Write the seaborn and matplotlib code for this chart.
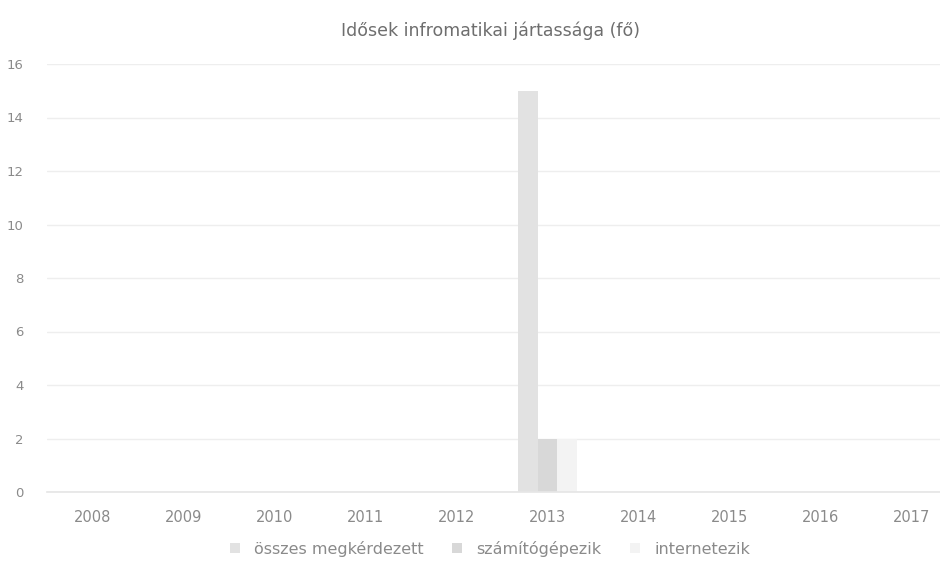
import matplotlib
matplotlib.use("Agg")
import matplotlib.pyplot as plt
import seaborn as sns
import pandas as pd
from matplotlib.patches import Patch

years = ["2008", "2009", "2010", "2011", "2012", "2013", "2014", "2015", "2016", "2017"]
osszes = [0, 0, 0, 0, 0, 15, 0, 0, 0, 0]
szamitogepezik = [0, 0, 0, 0, 0, 2, 0, 0, 0, 0]
internetezik = [0, 0, 0, 0, 0, 2, 0, 0, 0, 0]
series_names = ["összes megkérdezett", "számítógépezik", "internetezik"]
yticks = [0, 2, 4, 6, 8, 10, 12, 14, 16]

colors = ["#e2e2e2", "#d8d8d8", "#f3f3f3"]

rows = []
for name, vals in zip(series_names, [osszes, szamitogepezik, internetezik]):
    for y, v in zip(years, vals):
        rows.append({"év": y, "sorozat": name, "fő": v})
df = pd.DataFrame(rows)

sns.set_theme(style="white")
plt.rcParams["font.family"] = ["DejaVu Sans"]

fig = plt.figure(figsize=(9.4, 5.72), dpi=100)
ax = fig.add_axes([47 / 940, 1 - 492 / 572, 910 / 940, (492 - 64) / 572])

sns.barplot(data=df, x="év", y="fő", hue="sorozat", hue_order=series_names,
            palette=colors, width=0.65, gap=0, ax=ax, legend=False,
            edgecolor="none", saturation=1)

ax.set_ylim(0, 16)
ax.set_xlim(-0.5, len(years) - 0.5)
ax.set_yticks(yticks)
ax.set_yticklabels([str(t) for t in yticks])
ax.grid(axis="y", color="#eeeeee", linewidth=1)
ax.set_axisbelow(True)
for s in ["top", "right", "left"]:
    ax.spines[s].set_visible(False)
ax.spines["bottom"].set_color("#e6e6e6")
ax.set_xlabel("")
ax.set_ylabel("")
ax.tick_params(axis="x", colors="#8a8a8a", labelsize=10.5, length=0, pad=13)
ax.tick_params(axis="y", colors="#8a8a8a", labelsize=9.5, length=0, pad=17)

fig.text(490 / 940, 1 - 31 / 572, "Idősek infromatikai jártassága (fő)",
         ha="center", va="center", fontsize=12.5, color="#6e6e6e")

handles = [Patch(facecolor=c, edgecolor="none") for c in colors]
fig.legend(handles, series_names, loc="center", bbox_to_anchor=(490 / 940, 1 - 549 / 572),
           ncol=3, frameon=False, fontsize=11.5, handlelength=0.6, handleheight=0.6,
           columnspacing=1.8, handletextpad=0.9, labelcolor="#8a8a8a")

fig.savefig("out.png", dpi=100)
